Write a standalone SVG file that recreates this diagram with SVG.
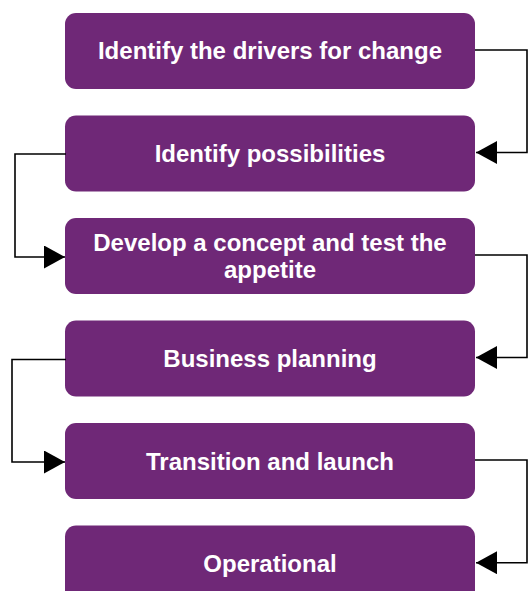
<svg xmlns="http://www.w3.org/2000/svg" width="528" height="591" viewBox="0 0 528 591">
<defs>
<style>
.box{fill:#6f2877;}
.t{font-family:"Liberation Sans",Arial,sans-serif;font-weight:bold;font-size:24px;fill:#ffffff;text-anchor:middle;}
.c{fill:none;stroke:#000;stroke-width:1.6;}
</style>
<marker id="ah" markerWidth="21" markerHeight="23" refX="21" refY="11.5" orient="auto" markerUnits="userSpaceOnUse">
<path d="M0,0 L21,11.5 L0,23 Z" fill="#000"/>
</marker>
</defs>
<rect width="528" height="591" fill="#fff"/>
<g id="n1"><rect class="box" x="65" y="13" width="410" height="76" rx="11"/><text class="t" x="270" y="59">Identify the drivers for change</text></g>
<g id="n2"><rect class="box" x="65" y="115.5" width="410" height="76" rx="11"/><text class="t" x="270" y="162">Identify possibilities</text></g>
<g id="n3"><rect class="box" x="65" y="218" width="410" height="76" rx="11"/><text class="t" x="270" y="250.5">Develop a concept and test the</text><text class="t" x="270" y="278">appetite</text></g>
<g id="n4"><rect class="box" x="65" y="320.5" width="410" height="76" rx="11"/><text class="t" x="270" y="367">Business planning</text></g>
<g id="n5"><rect class="box" x="65" y="423" width="410" height="76" rx="11"/><text class="t" x="270" y="469.5">Transition and launch</text></g>
<g id="n6"><rect class="box" x="65" y="525.5" width="410" height="80" rx="11"/><text class="t" x="270" y="572">Operational</text></g>
<g id="connectors">
<path class="c" d="M475,50 H527 V152.5 H476" marker-end="url(#ah)"/>
<path class="c" d="M66,154 H15 V257 H65" marker-end="url(#ah)"/>
<path class="c" d="M475,255 H527 V357.5 H476" marker-end="url(#ah)"/>
<path class="c" d="M66,359.5 H12 V462 H65" marker-end="url(#ah)"/>
<path class="c" d="M475,460 H527 V562.7 H476" marker-end="url(#ah)"/>
</g>
</svg>
